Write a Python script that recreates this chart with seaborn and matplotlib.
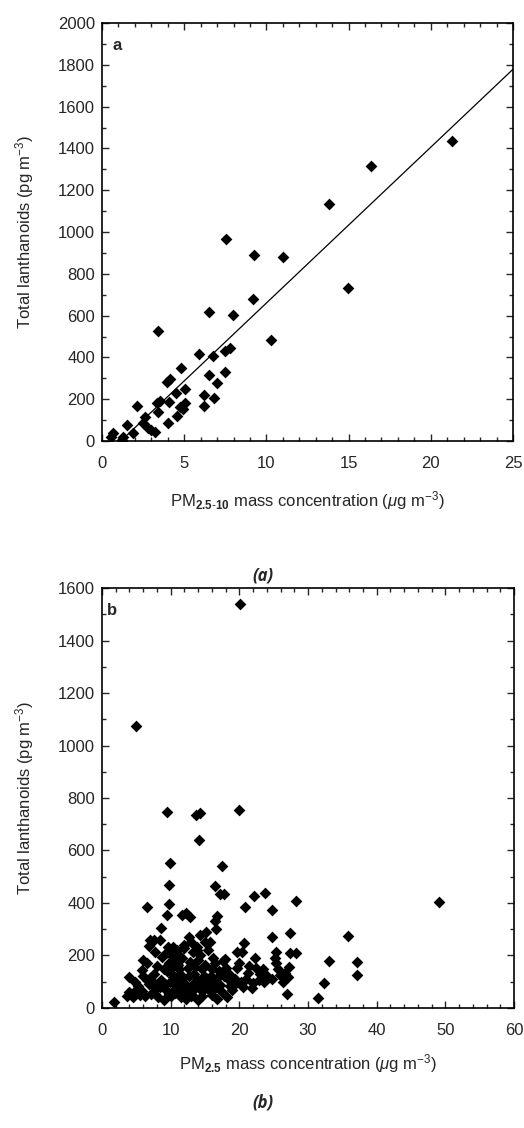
import matplotlib
matplotlib.use("Agg")
import matplotlib.pyplot as plt
import seaborn as sns
import pandas as pd
from matplotlib.ticker import MultipleLocator

sns.set_style("ticks")
plt.rcParams['font.family'] = ['Liberation Sans', 'DejaVu Sans']
plt.rcParams['mathtext.fontset'] = 'custom'
plt.rcParams['mathtext.rm'] = 'Liberation Sans'
plt.rcParams['mathtext.it'] = 'Liberation Sans:italic'
plt.rcParams['mathtext.bf'] = 'Liberation Sans:bold'

# panel a: coarse fraction
pm_coarse = [0.53, 0.65, 1.2, 1.26, 1.54, 1.91, 2.11, 2.47, 2.62, 2.82, 3.22, 3.0,
             3.33, 3.53, 3.43, 3.43, 3.93, 4.14, 4.08, 4.04, 4.5, 4.58, 4.74, 4.95,
             4.78, 5.05, 5.05, 5.92, 6.22, 6.22, 6.51, 6.51, 6.73, 6.81, 6.97, 7.46,
             7.48, 7.54, 7.79, 7.95, 9.19, 9.27, 10.26, 10.99, 13.8, 14.98, 16.38, 21.31]
lan_coarse = [18, 40, 5, 21, 77, 40, 167, 88, 113, 61, 45, 55,
              183, 191, 140, 528, 284, 295, 185, 88, 228, 120, 164, 152,
              348, 250, 183, 416, 220, 167, 619, 317, 407, 204, 280, 432,
              332, 965, 446, 603, 679, 890, 483, 882, 1134, 733, 1314, 1434]

# panel b: fine fraction
pm_fine = [5.0, 20.1, 9.5, 13.7, 14.3, 19.9, 14.1, 9.9, 17.4, 9.7, 16.4, 17.2, 17.8, 22.1,
           23.8, 28.2, 49.1, 9.7, 6.5, 20.8, 24.7, 9.4, 11.6, 12.3, 12.8, 16.8, 16.5, 16.6,
           8.6, 14.3, 27.4, 24.8, 35.8, 7.5, 8.4, 6.9, 15.0, 15.7, 20.7, 10.4, 9.6, 13.8,
           13.3, 10.9, 7.7, 19.6, 20.4, 25.3, 27.4, 28.3, 22.3, 25.2, 17.9, 6.0, 6.5, 5.8,
           3.9, 1.7, 27.3, 27.1, 27.0, 33.0, 37.2, 37.2, 32.3, 31.4, 26.4, 26.7, 25.6, 25.9,
           25.4, 22.4, 19.6, 10.6, 11.6, 12.8, 14.0, 15.0, 16.4, 17.6, 9.0, 10.2, 11.2, 12.5,
           13.6, 14.6, 16.0, 18.0, 10.4, 11.5, 12.7, 13.8, 15.2, 16.6, 17.8, 9.2, 10.8, 12.0,
           13.2, 14.6, 15.8, 17.2, 18.6, 9.5, 10.7, 11.8, 13.0, 14.5, 16.2, 17.4, 19.0, 10.0,
           11.5, 13.1, 14.6, 16.0, 18.2, 18.5, 19.3, 20.2, 21.0, 22.0, 22.8, 23.6, 20.5, 21.8,
           19.2, 23.0, 24.0, 24.8, 21.2, 20.0, 21.4, 23.4, 4.0, 4.5, 3.6, 5.2, 5.8, 6.2,
           6.8, 7.2, 7.8, 8.2, 8.6, 7.5, 8.0, 8.8, 9.3, 9.8, 10.0, 11.0, 12.0, 13.0,
           14.2, 15.5, 16.2, 17.0, 18.5, 6.5, 7.0, 4.8, 5.5, 9.0, 12.2, 14.0, 16.8, 11.0,
           13.5, 15.5, 7.0, 12.6, 15.2, 9.9, 10.5, 11.3, 12.1, 13.4, 14.8, 10.1, 11.9, 13.9,
           15.9, 9.4, 10.9, 12.4, 14.3, 8.4, 9.8, 11.1, 12.9, 14.9, 16.5, 5.0, 6.0, 7.6]
lan_fine = [1075, 1540, 748, 735, 741, 754, 640, 554, 542, 470, 465, 434, 434, 428,
            439, 409, 403, 396, 386, 386, 373, 354, 354, 361, 348, 352, 330, 300,
            304, 278, 285, 272, 276, 259, 259, 238, 253, 253, 249, 231, 234, 234,
            215, 221, 215, 215, 212, 215, 211, 211, 189, 189, 185, 183, 170, 145,
            118, 24, 155, 119, 55, 180, 174, 126, 96, 37, 100, 135, 150, 126,
            170, 151, 151, 183, 189, 176, 183, 164, 170, 180, 150, 155, 148, 152,
            155, 150, 148, 152, 118, 112, 120, 108, 115, 112, 120, 92, 88, 95,
            90, 85, 92, 88, 84, 65, 58, 66, 60, 64, 70, 62, 70, 45,
            42, 48, 44, 50, 40, 105, 110, 100, 112, 95, 108, 100, 80, 75,
            88, 130, 120, 112, 135, 170, 160, 150, 60, 40, 45, 85, 65, 45,
            90, 55, 75, 40, 105, 130, 160, 195, 210, 170, 135, 205, 230, 250,
            200, 220, 190, 140, 130, 105, 115, 100, 50, 30, 35, 30, 35, 75,
            78, 72, 260, 270, 290, 100, 70, 130, 60, 130, 120, 200, 240, 220,
            120, 140, 100, 80, 100, 80, 55, 165, 45, 90, 80, 70, 120, 95]

df_a = pd.DataFrame({'pm': pm_coarse, 'lan': lan_coarse})
df_b = pd.DataFrame({'pm': pm_fine, 'lan': lan_fine})

fig = plt.figure(figsize=(5.24, 11.28), dpi=100)
ax1 = fig.add_axes([0.1947, 0.609, 0.7843, 0.3706])
ax2 = fig.add_axes([0.1947, 0.1064, 0.7863, 0.3723])

ax1.set_xlim(0, 25)
ax1.set_ylim(0, 2000)
sns.regplot(data=df_a, x='pm', y='lan', ax=ax1, ci=None, truncate=False,
            marker='D', color='black',
            scatter_kws={'s': 36, 'linewidths': 0, 'alpha': 1},
            line_kws={'lw': 0.9})
ax1.set_xlim(0, 25)
ax1.set_ylim(0, 2000)
ax1.xaxis.set_major_locator(MultipleLocator(5))
ax1.xaxis.set_minor_locator(MultipleLocator(1))
ax1.yaxis.set_major_locator(MultipleLocator(200))
ax1.yaxis.set_minor_locator(MultipleLocator(100))
ax1.set_xlabel(r'PM$_{\mathbf{2.5\text{-}10}}$ mass concentration ($\mathit{\mu}$g m$^{-3}$)', fontsize=12, labelpad=13)
ax1.set_ylabel(r'Total lanthanoids (pg m$^{-3}$)', fontsize=12, labelpad=16)
ax1.text(0.025, 0.965, 'a', transform=ax1.transAxes, fontsize=12, fontweight='bold', va='top')

sns.scatterplot(data=df_b, x='pm', y='lan', ax=ax2, marker='D', color='black',
                s=36, linewidth=0)
ax2.set_xlim(0, 60)
ax2.set_ylim(0, 1600)
ax2.xaxis.set_major_locator(MultipleLocator(10))
ax2.xaxis.set_minor_locator(MultipleLocator(2))
ax2.yaxis.set_major_locator(MultipleLocator(200))
ax2.yaxis.set_minor_locator(MultipleLocator(100))
ax2.set_xlabel(r'PM$_{\mathbf{2.5}}$ mass concentration ($\mathit{\mu}$g m$^{-3}$)', fontsize=12, labelpad=10)
ax2.set_ylabel(r'Total lanthanoids (pg m$^{-3}$)', fontsize=12, labelpad=16)
ax2.text(0.012, 0.965, 'b', transform=ax2.transAxes, fontsize=12, fontweight='bold', va='top')

for ax in (ax1, ax2):
    ax.tick_params(which='both', direction='in', top=True, right=True, labelsize=12)
    ax.tick_params(axis='x', which='major', pad=11)
    ax.tick_params(axis='y', which='major', pad=5)
    ax.tick_params(which='major', length=5, width=1)
    ax.tick_params(which='minor', length=3, width=1)
    for sp in ax.spines.values():
        sp.set_linewidth(1.2)
        sp.set_color('black')

fig.text(0.502, 0.4902, '(a)', ha='center', va='center', fontsize=12, fontweight='bold', style='italic',
         family='Open Sans')
fig.text(0.502, 0.0222, '(b)', ha='center', va='center', fontsize=12, fontweight='bold', style='italic',
         family='Open Sans')

fig.savefig('out.png', dpi=100, facecolor='white')
